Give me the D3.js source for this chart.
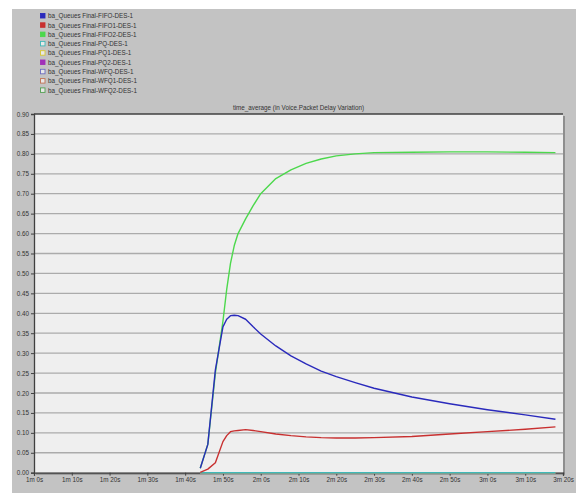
<!DOCTYPE html>
<html><head><meta charset="utf-8">
<script src="https://cdn.jsdelivr.net/npm/d3@7"></script>
<style>body{margin:0;background:#fff}svg{display:block}</style>
</head><body>
<svg id="c" width="576" height="493"></svg>
<script>
const seriesNames = ["ba_Queues Final-FIFO-DES-1","ba_Queues Final-FIFO1-DES-1","ba_Queues Final-FIFO2-DES-1","ba_Queues Final-PQ-DES-1","ba_Queues Final-PQ1-DES-1","ba_Queues Final-PQ2-DES-1","ba_Queues Final-WFQ-DES-1","ba_Queues Final-WFQ1-DES-1","ba_Queues Final-WFQ2-DES-1"];
const seriesColors = ["#2a2abc","#c83030","#4cd84c","#40b8b8","#d8c830","#a030b8","#6c6cc0","#c07050","#50a050"];
const legendFilled = [true,true,true,false,false,true,false,false,false];
const times = [104,106,108,110,111,112,113,114,116,118,120,124,128,132,136,140,145,150,160,170,180,190,198];
const fifo  = [0.011,0.071,0.258,0.366,0.385,0.394,0.395,0.394,0.385,0.366,0.348,0.318,0.293,0.273,0.255,0.241,0.226,0.212,0.190,0.173,0.158,0.145,0.134];
const fifo1 = [0.001,0.009,0.025,0.078,0.093,0.103,0.105,0.106,0.108,0.106,0.103,0.097,0.093,0.090,0.088,0.087,0.087,0.088,0.091,0.097,0.103,0.109,0.115];
const fifo2 = [0.011,0.071,0.250,0.380,0.460,0.525,0.570,0.600,0.637,0.670,0.700,0.738,0.760,0.776,0.787,0.795,0.800,0.803,0.804,0.805,0.805,0.804,0.803];
const zeros = [0,0,0,0,0,0,0,0,0,0,0,0,0,0,0,0,0,0,0,0,0,0,0];
const seriesValues = [fifo, fifo1, fifo2, zeros, zeros, zeros, zeros, zeros, zeros];
const xTicks = [60,70,80,90,100,110,120,130,140,150,160,170,180,190,200];
const xTickLabels = ["1m 0s","1m 10s","1m 20s","1m 30s","1m 40s","1m 50s","2m 0s","2m 10s","2m 20s","2m 30s","2m 40s","2m 50s","3m 0s","3m 10s","3m 20s"];
const yTicks = [0,0.05,0.1,0.15,0.2,0.25,0.3,0.35,0.4,0.45,0.5,0.55,0.6,0.65,0.7,0.75,0.8,0.85,0.9];
const title = "time_average (in Voice.Packet Delay Variation)";

const svg = d3.select("#c");
const font = "Liberation Sans, Arial, sans-serif";
svg.append("rect").attr("x",12).attr("y",9).attr("width",564).attr("height",484).attr("fill","#c3c3c3");

const L=34, R=563, T=114, B=472.7;
const x = d3.scaleLinear().domain([60,200]).range([L,R]);
const y = d3.scaleLinear().domain([0,0.9]).range([B,T]);

const leg = svg.append("g");
seriesNames.forEach((n,i)=>{
  const yy = 16 + i*9.3;
  leg.append("rect").attr("x",40.5).attr("y",yy-2.5).attr("width",4.5).attr("height",4.5)
    .attr("fill", legendFilled[i]? seriesColors[i] : "#e8e8e8")
    .attr("stroke", seriesColors[i]).attr("stroke-width",0.9);
  leg.append("text").attr("x",48).attr("y",yy+2.2).text(n)
    .attr("font-family",font).attr("font-size",6.3).attr("fill","#333");
});

svg.append("text").attr("x",(L+R)/2).attr("y",110).attr("text-anchor","middle")
  .attr("font-family",font).attr("font-size",6.3).attr("fill","#333").text(title);

svg.append("rect").attr("x",L+2).attr("y",T+2).attr("width",R-L).attr("height",B-T).attr("fill","#8e8e8e");
svg.append("rect").attr("x",L).attr("y",T).attr("width",R-L).attr("height",B-T).attr("fill","#efefef");

svg.append("g").selectAll("line").data(yTicks.slice(1,-1)).join("line")
  .attr("x1",L).attr("x2",R).attr("y1",d=>y(d)).attr("y2",d=>y(d))
  .attr("stroke","#ababab").attr("stroke-width",1.3);

svg.append("line").attr("x1",L).attr("x2",R).attr("y1",T).attr("y2",T).attr("stroke","#404040").attr("stroke-width",1.3);

const yAxis = d3.axisLeft(y).tickValues(yTicks).tickFormat(d3.format(".2f")).tickSize(3).tickPadding(2);
const gy = svg.append("g").attr("transform",`translate(${L},0)`).call(yAxis);
gy.select(".domain").attr("stroke","#404040").attr("stroke-width",1.3);
gy.selectAll(".tick line").attr("stroke","#404040");
gy.selectAll("text").attr("font-family",font).attr("font-size",6.3).attr("fill","#333");

const xAxis = d3.axisBottom(x).tickValues(xTicks).tickFormat((d,i)=>xTickLabels[i]).tickSize(3).tickPadding(2);
const gx = svg.append("g").attr("transform",`translate(0,${B})`).call(xAxis);
gx.select(".domain").attr("stroke","#404040").attr("stroke-width",1.3);
gx.selectAll(".tick line").attr("stroke","#404040");
gx.selectAll("text").attr("font-family",font).attr("font-size",6.3).attr("fill","#333");

const line = d3.line().x((d,i)=>x(times[i])).y(d=>y(d)).curve(d3.curveLinear);
const order = [8,7,6,5,4,3,1,2,0];
order.forEach(i=>{
  svg.append("path").datum(seriesValues[i]).attr("d",line)
    .attr("fill","none").attr("stroke",seriesColors[i]).attr("stroke-width",1.4)
    .attr("stroke-linejoin","round");
});
</script>
</body></html>
